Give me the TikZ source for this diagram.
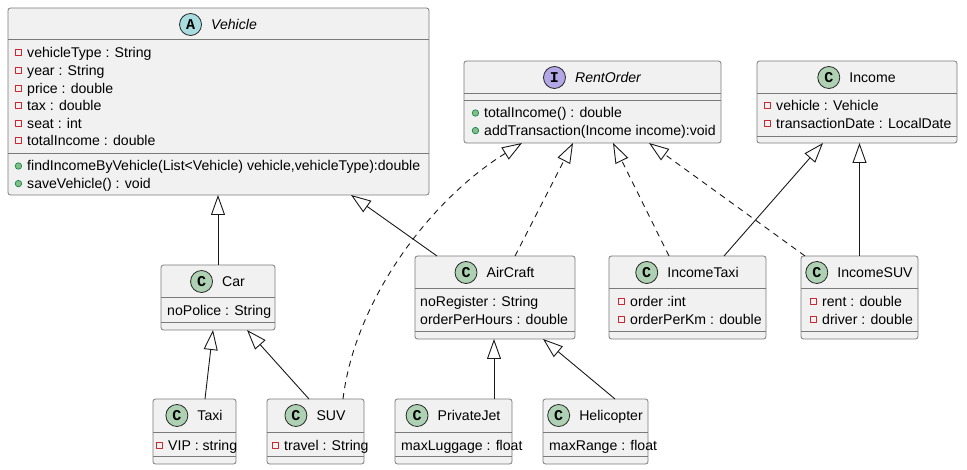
\documentclass[tikz,border=0pt]{standalone}
\usepackage{fontspec}
\setmainfont{Liberation Sans}
\setmonofont{Liberation Mono}
\usetikzlibrary{arrows.meta}
\definecolor{boxfill}{HTML}{F1F1F1}
\definecolor{boxline}{HTML}{7A7A7A}
\definecolor{iconC}{HTML}{ADD1B2}
\definecolor{iconA}{HTML}{A9DCDF}
\definecolor{iconI}{HTML}{B4A7E5}
\definecolor{privred}{HTML}{C82930}
\definecolor{pubfill}{HTML}{84BE84}
\definecolor{publine}{HTML}{038048}
\tikzset{
  cls/.style={draw=boxline, fill=boxfill, line width=0.8pt, rounded corners=2.5pt, inner sep=0pt, outer sep=0pt},
  rule/.style={draw=boxline, line width=0.8pt},
  icon/.style={circle, draw=black!85, fill=#1, line width=0.8pt, minimum size=22pt, inner sep=0pt, label distance=9pt, font=\ttfamily\bfseries\fontsize{15}{15}\selectfont},
  title/.style={inner sep=0pt, text height=10pt, text depth=0pt},
  mem/.style={inner sep=0pt, text height=10pt, text depth=0pt, anchor=west},
  privsq/.style={rectangle, draw=privred, line width=1pt, minimum size=6pt, inner sep=0pt, label distance=5pt},
  pubdot/.style={circle, draw=publine, fill=pubfill, line width=0.6pt, minimum size=6.5pt, inner sep=0pt, label distance=5pt},
  priv/.style={mem, label={[privsq]left:{}}},
  pub/.style={mem, label={[pubdot]left:{}}},
  edge/.style={->, draw=black!90, line width=0.9pt},
  real/.style={edge, dash pattern=on 6pt off 5pt}
}
% name, left, top, right, bottom, first rule, second rule
\newcommand{\classbox}[7]{%
  \node[cls, minimum width={#4-#2}, minimum height={#5-#3}, anchor=north west] (#1) at (#2,#3) {};
  \draw[rule] (#1.west |- 0,#6) -- (#1.east |- 0,#6);
  \draw[rule] (#1.west |- 0,#7) -- (#1.east |- 0,#7);
}
\begin{document}
\begin{tikzpicture}[x=1pt, y=-1pt, >={Triangle[open,length=20pt,width=14pt]}, font=\fontsize{14.1}{16}\selectfont, line join=round]
\useasboundingbox (0,0) rectangle (967,470);
% class boxes
\classbox{vehicle}{8}{8}{429}{195}{39}{153}
\classbox{rentorder}{464}{61}{721}{143}{93}{100}
\classbox{income}{757}{61}{957}{143}{93}{136}
\classbox{car}{161}{265}{275}{330}{297}{322}
\classbox{aircraft}{415}{256}{575}{339}{288}{331}
\classbox{incometaxi}{609}{256}{766}{339}{288}{331}
\classbox{incomesuv}{801}{256}{918}{339}{288}{331}
\classbox{taxi}{153}{399}{236}{464}{432}{456}
\classbox{suv}{267}{399}{364}{464}{432}{456}
\classbox{privatejet}{395}{399}{512}{464}{432}{456}
\classbox{helicopter}{543}{399}{648}{464}{432}{456}
% titles
\node[title, label={[icon=iconA]left:A}] (vehicle-t) at ([xshift=15.5pt,yshift=-16.5pt]vehicle.north) {\itshape Vehicle};
\node[title, label={[icon=iconI]left:I}] (rentorder-t) at ([xshift=15.5pt,yshift=-16.5pt]rentorder.north) {\itshape RentOrder};
\node[title, label={[icon=iconC]left:C}] (income-t) at ([xshift=15.5pt,yshift=-16.5pt]income.north) {Income};
\node[title, label={[icon=iconC]left:C}] (car-t) at ([xshift=15.5pt,yshift=-16.5pt]car.north) {Car};
\node[title, label={[icon=iconC]left:C}] (aircraft-t) at ([xshift=15.5pt,yshift=-16.5pt]aircraft.north) {AirCraft};
\node[title, label={[icon=iconC]left:C}] (incometaxi-t) at ([xshift=15.5pt,yshift=-16.5pt]incometaxi.north) {IncomeTaxi};
\node[title, label={[icon=iconC]left:C}] (incomesuv-t) at ([xshift=15.5pt,yshift=-16.5pt]incomesuv.north) {IncomeSUV};
\node[title, label={[icon=iconC]left:C}] (taxi-t) at ([xshift=15.5pt,yshift=-16.5pt]taxi.north) {Taxi};
\node[title, label={[icon=iconC]left:C}] (suv-t) at ([xshift=15.5pt,yshift=-16.5pt]suv.north) {SUV};
\node[title, label={[icon=iconC]left:C}] (privatejet-t) at ([xshift=15.5pt,yshift=-16.5pt]privatejet.north) {PrivateJet};
\node[title, label={[icon=iconC]left:C}] (helicopter-t) at ([xshift=15.5pt,yshift=-16.5pt]helicopter.north) {Helicopter};
% members
\foreach \t [count=\i from 0] in {vehicleType : String, year : String, price : double, tax : double, seat : int, totalIncome : double}
  \node[priv] (vehicle-a\i) at (27,{53+17.6*\i}) {\t};
\node[pub] (vehicle-m0) at (27,166) {findIncomeByVehicle(List<Vehicle) vehicle,vehicleType):double};
\node[pub] (vehicle-m1) at (27,183.6) {saveVehicle() : void};
\node[pub] (rentorder-m0) at (484,113) {totalIncome() : double};
\node[pub] (rentorder-m1) at (484,130.6) {addTransaction(Income income):void};
\node[priv] (income-a0) at (776,106) {vehicle : Vehicle};
\node[priv] (income-a1) at (776,123.6) {transactionDate : LocalDate};
\node[mem] (car-a0) at (167,311) {noPolice : String};
\node[mem] (aircraft-a0) at (420,302) {noRegister : String};
\node[mem] (aircraft-a1) at (420,319.6) {orderPerHours : double};
\node[priv] (incometaxi-a0) at (630,302) {order :int};
\node[priv] (incometaxi-a1) at (630,319.6) {orderPerKm : double};
\node[priv] (incomesuv-a0) at (822,302) {rent : double};
\node[priv] (incomesuv-a1) at (822,319.6) {driver : double};
\node[priv] (taxi-a0) at (168,445) {VIP : string};
\node[priv] (suv-a0) at (284,445) {travel : String};
\node[mem] (privatejet-a0) at (401,445) {maxLuggage : float};
\node[mem] (helicopter-a0) at (549,445) {maxRange : float};
% extends
\draw[edge] (car.north) -- (car.north |- vehicle.south);
\draw[edge] ([xshift=22pt]aircraft.north west) -- ([xshift=-78pt]vehicle.south east);
\draw[edge] ([xshift=52pt]taxi.north west) -- ([xshift=52pt]car.south west);
\draw[edge] ([xshift=42pt]suv.north west) -- ([xshift=86pt]car.south west);
\draw[edge] ([xshift=99pt]privatejet.north west) -- ([xshift=79pt]aircraft.south west);
\draw[edge] ([xshift=72pt]helicopter.north west) -- ([xshift=128pt]aircraft.south west);
\draw[edge] ([xshift=115pt]incometaxi.north west) -- ([xshift=66pt]income.south west);
\draw[edge] (incomesuv.north) -- (incomesuv.north |- income.south);
% implements
\draw[real] ([xshift=76pt]suv.north west) .. controls +(12,-99) and +(-92,57) .. ([xshift=58pt]rentorder.south west);
\draw[real] ([xshift=100pt]aircraft.north west) -- ([xshift=109pt]rentorder.south west);
\draw[real] ([xshift=60pt]incometaxi.north west) -- ([xshift=149pt]rentorder.south west);
\draw[real] ([xshift=4pt]incomesuv.north west) -- ([xshift=185pt]rentorder.south west);
\end{tikzpicture}
\end{document}
